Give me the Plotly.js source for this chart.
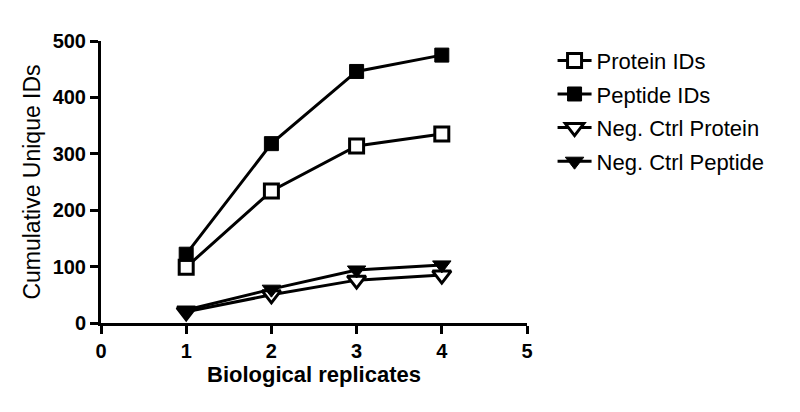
<!DOCTYPE html>
<html>
<head>
<meta charset="utf-8">
<script src="https://cdn.plot.ly/plotly-3.0.1.min.js"></script>
<style>
  html, body { margin: 0; padding: 0; background: #fff; }
  #plot { width: 800px; height: 412px; }
</style>
</head>
<body>
<div id="plot"></div>
<script>
// Datos
const replicas = [1, 2, 3, 4];
const proteinIDs = [99, 234, 314, 335];
const peptideIDs = [122, 318, 446, 475];
const negCtrlProtein = [20, 50, 76, 85];
const negCtrlPeptide = [23, 60, 94, 103];

const fuente = 'Liberation Sans, Arial, sans-serif';

const serie = (y, nombre, simbolo, relleno) => ({
  x: replicas,
  y: y,
  name: nombre,
  legendgroup: nombre,
  type: 'scatter',
  mode: 'lines+markers',
  line: { color: '#000', width: 3 },
  marker: {
    symbol: simbolo,
    size: simbolo.startsWith('triangle') ? 16 : 14,
    color: relleno,
    line: { color: '#000', width: relleno === '#fff' ? 3 : 1 }
  }
});

const data = [
  serie(proteinIDs, 'Protein IDs', 'square', '#fff'),
  serie(peptideIDs, 'Peptide IDs', 'square', '#000'),
  serie(negCtrlProtein, 'Neg. Ctrl Protein', 'triangle-down', '#fff'),
  serie(negCtrlPeptide, 'Neg. Ctrl Peptide', 'triangle-down', '#000')
];

const ejeBase = {
  showgrid: false,
  zeroline: false,
  showline: true,
  linecolor: '#000',
  linewidth: 3,
  ticks: 'outside',
  ticklen: 8,
  tickwidth: 3,
  tickcolor: '#000',
  tickfont: { size: 20, family: fuente, weight: 'bold' }
};

const layout = {
  width: 800,
  height: 412,
  margin: { l: 101, r: 273, t: 41, b: 89 },
  paper_bgcolor: '#fff',
  plot_bgcolor: '#fff',
  font: { family: fuente, color: '#000' },
  xaxis: Object.assign({}, ejeBase, {
    range: [0, 5],
    tickvals: [0, 1, 2, 3, 4, 5],
    title: { text: 'Biological replicates', font: { size: 22, weight: 'bold' }, standoff: 6 }
  }),
  yaxis: Object.assign({}, ejeBase, {
    range: [0, 500],
    tickvals: [0, 100, 200, 300, 400, 500],
    title: { text: 'Cumulative Unique IDs', font: { size: 23 }, standoff: 6 }
  }),
  showlegend: true,
  legend: {
    x: 1.06,
    xanchor: 'left',
    y: 1.005,
    yanchor: 'top',
    font: { size: 22, family: fuente },
    tracegroupgap: 2,
    itemwidth: 34
  }
};

Plotly.newPlot('plot', data, layout, { displayModeBar: false, staticPlot: true });
</script>
</body>
</html>
